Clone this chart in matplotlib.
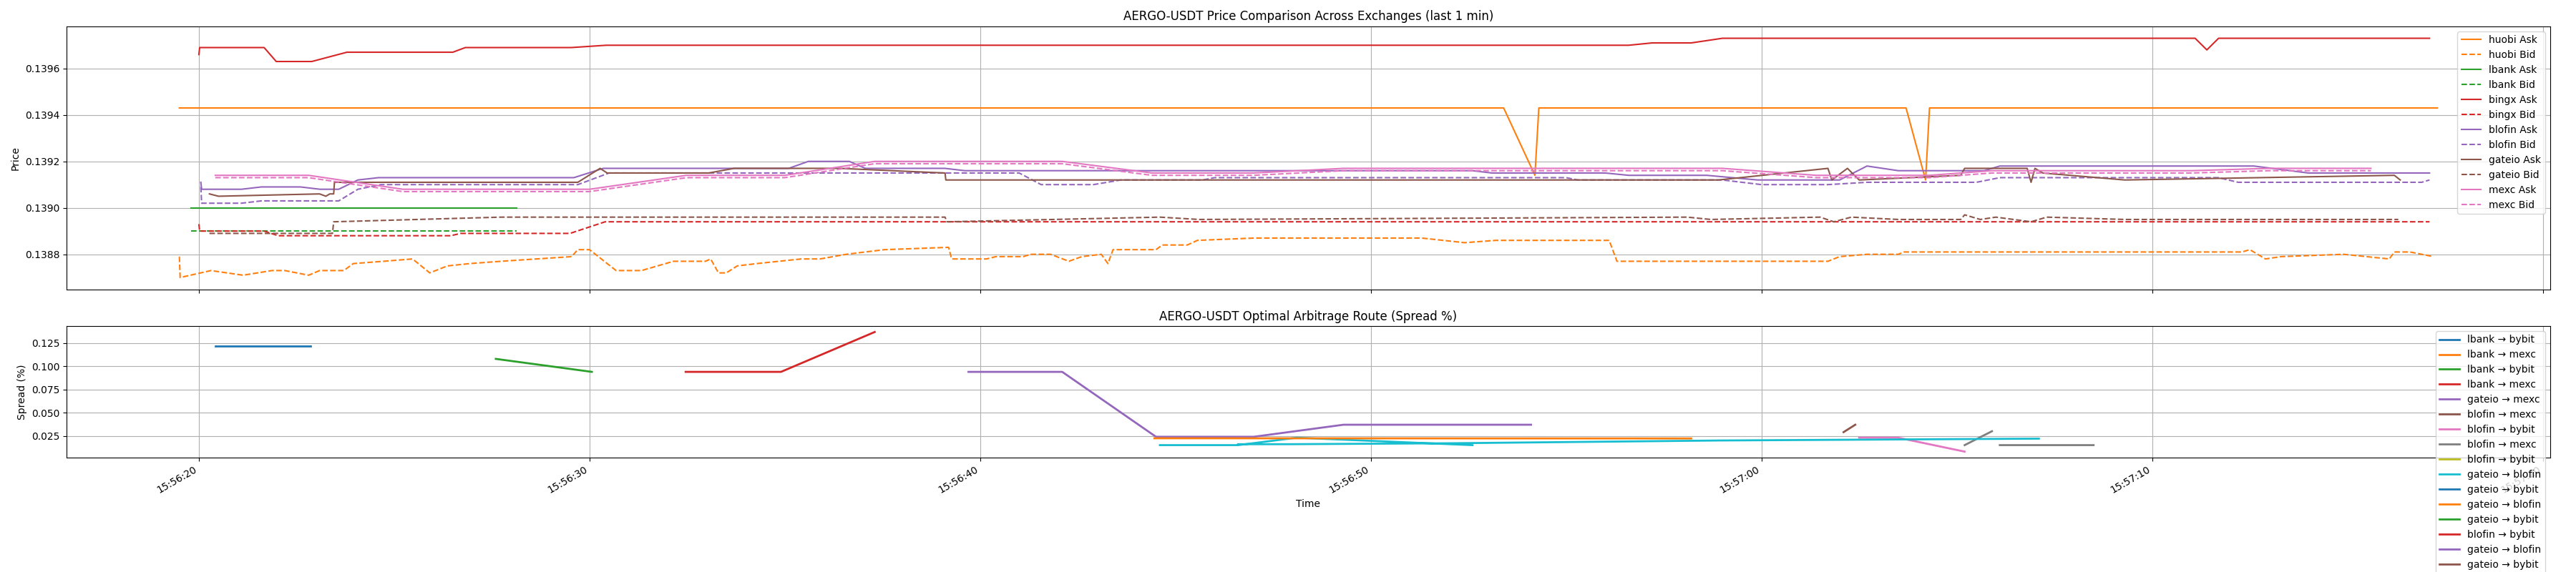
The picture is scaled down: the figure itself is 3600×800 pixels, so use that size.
import numpy as np
import matplotlib
matplotlib.use("Agg")
import matplotlib.pyplot as plt
import matplotlib.dates as mdates
from datetime import datetime

# time axis: seconds after 15:56:20
BASE = datetime(2024, 1, 1, 15, 56, 20)

# ---- price data (top panel) ----
huobi_ask_t = [-0.5, 33.4, 34.2, 34.3, 43.7, 44.2, 44.3, 57.3]
huobi_ask = [0.13943, 0.13943, 0.13914, 0.13943, 0.13943, 0.13912, 0.13943, 0.13943]

huobi_bid_t = [-0.5, -0.48, 0.31, 1.13, 1.87, 2.2, 2.81, 3.09, 3.71, 3.95,
               4.73, 5.47, 5.91, 6.36, 6.93, 7.74, 9.54, 9.7, 10.0, 10.68,
               11.33, 12.15, 12.97, 13.1, 13.3, 13.5, 13.78, 14.28, 15.42, 15.9,
               16.57, 17.55, 19.19, 19.27, 20.16, 20.4, 21.1, 21.3, 21.8, 22.27,
               22.6, 23.1, 23.27, 23.4, 24.5, 24.66, 25.3, 25.56, 27.03, 31.3,
               32.4, 33.2, 36.1, 36.3, 41.7, 42.0, 42.7, 43.5, 43.65, 52.3,
               52.5, 52.9, 53.3, 54.9, 56.07, 56.2, 56.6, 57.2]
huobi_bid = [0.13879, 0.13870, 0.13873, 0.13871, 0.13873, 0.13873, 0.13871, 0.13873, 0.13873, 0.13876,
             0.13877, 0.13878, 0.13872, 0.13875, 0.13876, 0.13877, 0.13879, 0.13882, 0.13882, 0.13873,
             0.13873, 0.13877, 0.13877, 0.13878, 0.13872, 0.13872, 0.13875, 0.13876, 0.13878, 0.13878,
             0.13880, 0.13882, 0.13883, 0.13878, 0.13878, 0.13879, 0.13879, 0.13880, 0.13880, 0.13877,
             0.13879, 0.13880, 0.13876, 0.13882, 0.13882, 0.13884, 0.13884, 0.13886, 0.13887, 0.13887,
             0.13885, 0.13886, 0.13886, 0.13877, 0.13877, 0.13879, 0.13880, 0.13880, 0.13881, 0.13881,
             0.13882, 0.13878, 0.13879, 0.13880, 0.13878, 0.13881, 0.13881, 0.13879]

lbank_t = [-0.2, 8.14]
lbank_ask = [0.13900, 0.13900]
lbank_bid = [0.13890, 0.13890]

bingx_ask_t = [0.0, 0.02, 1.67, 1.98, 2.89, 3.79, 6.5, 6.82, 9.53, 10.43,
               36.6, 37.2, 38.2, 39.0, 51.1, 51.4, 51.7, 57.1]
bingx_ask = [0.13966, 0.13969, 0.13969, 0.13963, 0.13963, 0.13967, 0.13967, 0.13969, 0.13969, 0.13970,
             0.13970, 0.13971, 0.13971, 0.13973, 0.13973, 0.13968, 0.13973, 0.13973]
bingx_bid_t = [0.0, 0.02, 1.67, 2.03, 6.45, 6.7, 9.5, 10.4, 57.1]
bingx_bid = [0.13893, 0.13890, 0.13890, 0.13888, 0.13888, 0.13889, 0.13889, 0.13894, 0.13894]

blofin_ask_t = [0.05, 0.07, 1.09, 1.6, 2.6, 3.1, 3.58, 4.07, 4.6, 9.6,
                10.35, 15.1, 15.6, 16.65, 17.06, 19.1, 19.6, 32.6, 33.1, 36.0,
                36.6, 38.6, 39.9, 42.0, 42.7, 43.5, 45.7, 46.1, 52.6, 54.0, 57.1]
blofin_ask = [0.13911, 0.13908, 0.13908, 0.13909, 0.13909, 0.13908, 0.13908, 0.13912, 0.13913, 0.13913,
              0.13917, 0.13917, 0.13920, 0.13920, 0.13917, 0.13917, 0.13916, 0.13916, 0.13915, 0.13915,
              0.13914, 0.13914, 0.13912, 0.13912, 0.13918, 0.13916, 0.13916, 0.13918, 0.13918, 0.13915, 0.13915]
blofin_bid_t = [0.05, 0.07, 1.09, 1.6, 3.58, 4.07, 4.66, 9.7, 10.5, 21.0,
                21.56, 22.9, 23.6, 25.7, 26.0, 35.0, 35.3, 39.0, 40.0, 41.7,
                42.7, 45.5, 46.1, 51.7, 52.2, 56.9, 57.1]
blofin_bid = [0.13909, 0.13902, 0.13902, 0.13903, 0.13903, 0.13908, 0.13910, 0.13910, 0.13915, 0.13915,
              0.13910, 0.13910, 0.13912, 0.13912, 0.13913, 0.13913, 0.13912, 0.13912, 0.13910, 0.13910,
              0.13911, 0.13911, 0.13913, 0.13913, 0.13911, 0.13911, 0.13912]

gateio_ask_t = [0.27, 0.5, 3.09, 3.25, 3.35, 3.45, 3.47, 9.7, 10.27, 10.45,
                13.05, 13.7, 16.4, 19.1, 19.12, 38.9, 41.7, 41.8, 42.2, 42.5,
                45.1, 45.2, 46.8, 46.9, 47.0, 47.2, 49.3, 56.2, 56.35]
gateio_ask = [0.13906, 0.13905, 0.13906, 0.13905, 0.13906, 0.13906, 0.13911, 0.13911, 0.13917, 0.13915,
              0.13915, 0.13917, 0.13917, 0.13915, 0.13912, 0.13912, 0.13917, 0.13912, 0.13917, 0.13912,
              0.13914, 0.13917, 0.13917, 0.13911, 0.13917, 0.13915, 0.13912, 0.13914, 0.13912]
gateio_bid_t = [0.27, 3.42, 3.45, 7.74, 19.1, 19.15, 24.6, 25.6, 38.1, 38.7,
                41.5, 41.85, 42.3, 43.5, 45.1, 45.2, 45.6, 46.0, 46.9, 47.3, 49.3, 56.3]
gateio_bid = [0.13889, 0.13889, 0.13894, 0.13896, 0.13896, 0.13894, 0.13896, 0.13895, 0.13896, 0.13895,
              0.13896, 0.13894, 0.13896, 0.13895, 0.13895, 0.13897, 0.13895, 0.13896, 0.13894, 0.13896,
              0.13895, 0.13895]

mexc_t = [0.42, 2.81, 5.22, 10.0, 12.48, 15.0, 17.3, 22.1, 24.4, 27.0,
          29.3, 39.0, 41.4, 44.3, 45.9, 51.0, 53.0, 55.6]
mexc_ask = [0.13914, 0.13914, 0.13908, 0.13908, 0.13914, 0.13914, 0.13920, 0.13920, 0.13915, 0.13915,
            0.13917, 0.13917, 0.13914, 0.13914, 0.13916, 0.13916, 0.13917, 0.13917]
mexc_bid = [0.13913, 0.13913, 0.13907, 0.13907, 0.13913, 0.13913, 0.13919, 0.13919, 0.13914, 0.13914,
            0.13916, 0.13916, 0.13913, 0.13913, 0.13915, 0.13915, 0.13916, 0.13916]

# ---- arbitrage routes (bottom panel), in legend order ----
route_labels = ["lbank → bybit", "lbank → mexc", "lbank → bybit", "lbank → mexc",
                "gateio → mexc", "blofin → mexc", "blofin → bybit", "blofin → mexc",
                "blofin → bybit", "gateio → blofin", "gateio → bybit", "gateio → blofin",
                "gateio → bybit", "blofin → bybit", "gateio → blofin", "gateio → bybit"]
nan = np.nan
route_t = [
    [0.42, 2.86],
    [],
    [7.6, 10.06],
    [12.46, 14.9, 17.3],
    [19.7, 22.1, 24.5, 27.0, 29.3, 34.1],
    [42.1, 42.4],
    [42.5, 43.5, 45.2],
    [45.2, 45.9, 45.9, 46.1, 48.5],
    [],
    [24.6, 26.6, 28.1, 32.6, 32.6, 26.6, 27.9, 32.0, 38.9, 47.1],
    [],
    [24.46, 38.2],
    [],
    [],
    [],
    [],
]
route_spread = [
    [0.122, 0.122],
    [],
    [0.108, 0.094],
    [0.094, 0.094, 0.137],
    [0.094, 0.094, 0.024, 0.024, 0.037, 0.037],
    [0.029, 0.037],
    [0.023, 0.023, 0.008],
    [0.015, 0.030, nan, 0.015, 0.015],
    [],
    [0.015, 0.015, 0.023, 0.015, nan, 0.016, 0.016, 0.017, 0.020, 0.022],
    [],
    [0.0224, 0.0222],
    [],
    [],
    [],
    [],
]


def to_dates(secs):
    return mdates.date2num(BASE) + np.asarray(secs, dtype=float) / 86400.0


fig, (ax1, ax2) = plt.subplots(2, 1, figsize=(36, 8), dpi=100, sharex=True,
                               gridspec_kw={"height_ratios": [2, 1]})

price_series = [
    ("huobi", "C1", huobi_ask_t, huobi_ask, huobi_bid_t, huobi_bid),
    ("lbank", "C2", lbank_t, lbank_ask, lbank_t, lbank_bid),
    ("bingx", "C3", bingx_ask_t, bingx_ask, bingx_bid_t, bingx_bid),
    ("blofin", "C4", blofin_ask_t, blofin_ask, blofin_bid_t, blofin_bid),
    ("gateio", "C5", gateio_ask_t, gateio_ask, gateio_bid_t, gateio_bid),
    ("mexc", "C6", mexc_t, mexc_ask, mexc_t, mexc_bid),
]
for name, col, at, av, bt, bv in price_series:
    ax1.plot(to_dates(at), av, color=col, lw=1.5, label=f"{name} Ask")
    ax1.plot(to_dates(bt), bv, color=col, lw=1.5, ls="--", label=f"{name} Bid")

ax1.set_title("AERGO-USDT Price Comparison Across Exchanges (last 1 min)")
ax1.set_ylabel("Price")
ax1.grid(True)
ax1.legend(loc="upper right")
ax1.ticklabel_format(axis="y", useOffset=False)

for i, (lab, ts, vs) in enumerate(zip(route_labels, route_t, route_spread)):
    ax2.plot(to_dates(ts), vs, color=f"C{i % 10}", lw=2, label=lab)

ax2.set_title("AERGO-USDT Optimal Arbitrage Route (Spread %)")
ax2.set_ylabel("Spread (%)")
ax2.set_xlabel("Time")
ax2.grid(True)
ax2.legend(loc="upper right")

ax2.xaxis.set_major_locator(mdates.SecondLocator(bysecond=range(0, 60, 10)))
ax2.xaxis.set_major_formatter(mdates.DateFormatter("%H:%M:%S"))
fig.autofmt_xdate()

fig.subplots_adjust(left=0.0258, right=0.99, top=0.954, bottom=0.2, hspace=0.185)
fig.savefig("out.png")
